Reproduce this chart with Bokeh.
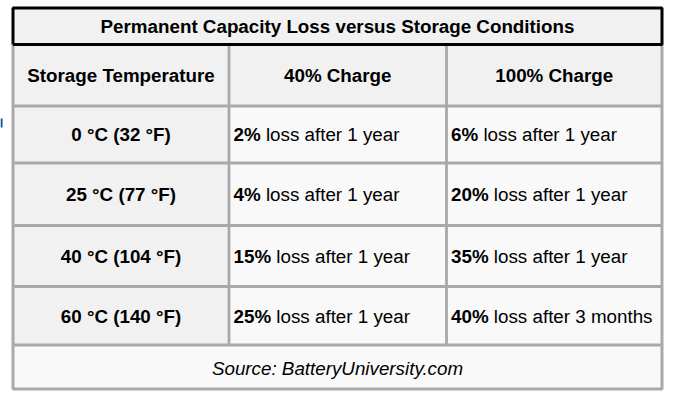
from bokeh.plotting import figure
from bokeh.models import Range1d
from bokeh.embed import file_html
from bokeh.resources import INLINE
from bokeh.core.properties import value

# ---------------- data ----------------
title_text = "Permanent Capacity Loss versus Storage Conditions"
headers = ["Storage Temperature", "40% Charge", "100% Charge"]
temps = ["0 °C (32 °F)", "25 °C (77 °F)", "40 °C (104 °F)", "60 °C (140 °F)"]
loss40 = [2, 4, 15, 25]
after40 = ["1 year", "1 year", "1 year", "1 year"]
loss100 = [6, 20, 35, 40]
after100 = ["1 year", "1 year", "1 year", "3 months"]
source_note = "Source: BatteryUniversity.com"

# ---------------- layout ----------------
W, H = 666, 392
col_edges = [12.5, 228.5, 446, 661.5]
title_top, title_bot = 7.5, 44
row_edges = [105.5, 162.5, 225, 286, 344.5]
src_bot = 388.5
n = len(temps)

FONT = value("Liberation Sans")
FS = 18.8
FSZ = f"{FS}px"
GREY = "#a9a9a9"
BG_HEAD = "#f1f1f1"
BG_CELL = "#f9f9f9"
DY = 0.3  # vertical text nudge

p = figure(width=W, height=H, x_range=Range1d(0, W), y_range=Range1d(H, 0),
           output_backend="svg", toolbar_location=None, min_border=0,
           x_axis_location=None, y_axis_location=None)
p.grid.visible = False
p.outline_line_color = None
p.background_fill_color = "white"
p.border_fill_color = "white"

# backgrounds
lefts, rights, tops, bottoms, fills = [], [], [], [], []
lefts.append(col_edges[0]); rights.append(col_edges[3]); tops.append(title_top); bottoms.append(title_bot); fills.append(BG_HEAD)
for c in range(3):
    lefts.append(col_edges[c]); rights.append(col_edges[c + 1]); tops.append(title_bot); bottoms.append(row_edges[0]); fills.append(BG_HEAD)
for r in range(n):
    for c in range(3):
        lefts.append(col_edges[c]); rights.append(col_edges[c + 1])
        tops.append(row_edges[r]); bottoms.append(row_edges[r + 1])
        fills.append(BG_HEAD if c == 0 else BG_CELL)
lefts.append(col_edges[0]); rights.append(col_edges[3]); tops.append(row_edges[-1]); bottoms.append(src_bot); fills.append(BG_CELL)
p.quad(left=lefts, right=rights, top=tops, bottom=bottoms, fill_color=fills, line_color=None)

# grey grid lines
xs, ys = [], []
for c in (1, 2):
    xs.append([col_edges[c], col_edges[c]]); ys.append([title_bot, row_edges[-1]])
for yv in row_edges:
    xs.append([col_edges[0], col_edges[3]]); ys.append([yv, yv])
p.multi_line(xs=xs, ys=ys, line_color=GREY, line_width=2.8)
# outer grey border
p.line(x=[col_edges[0], col_edges[0], col_edges[3], col_edges[3]],
       y=[title_bot, src_bot, src_bot, title_bot], line_color=GREY, line_width=3)
# black title border
p.line(x=[col_edges[0], col_edges[0], col_edges[3], col_edges[3], col_edges[0]],
       y=[title_bot, title_top, title_top, title_bot, title_bot], line_color="black", line_width=3)

def ctext(x, y, t, style="bold", align="center", color="black"):
    p.text(x=[x], y=[y + DY], text=[t], text_font=FONT, text_font_style=style, text_font_size=FSZ,
           text_align=align, text_baseline="middle", text_color=color)

mid = lambda a, b: (a + b) / 2

ctext(mid(col_edges[0], col_edges[3]), mid(title_top, title_bot), title_text)
for c, h in enumerate(headers):
    ctext(mid(col_edges[c], col_edges[c + 1]), mid(title_bot, row_edges[0]), h)

def bold_width(s):
    w = {"%": 0.889}
    return sum(w.get(ch, 0.556) for ch in s) * FS

for r in range(n):
    yc = mid(row_edges[r], row_edges[r + 1])
    ctext(mid(col_edges[0], col_edges[1]), yc, temps[r])
    for c, (lv, av) in ((1, (loss40[r], after40[r])), (2, (loss100[r], after100[r]))):
        xl = col_edges[c] + 4.5
        b = f"{lv}%"
        ctext(xl, yc, b, "bold", "left")
        ctext(xl + bold_width(b) + 0.278 * FS, yc, f"loss after {av}", "normal", "left")

ctext(mid(col_edges[0], col_edges[3]), mid(row_edges[-1], src_bot) + 1, source_note, "italic")

# sliver of a page element at the far left edge
p.quad(left=[0], right=[2], top=[118], bottom=[127], fill_color="#0b4aa0", line_color=None)

open("out.html", "w").write(file_html(p, INLINE))
